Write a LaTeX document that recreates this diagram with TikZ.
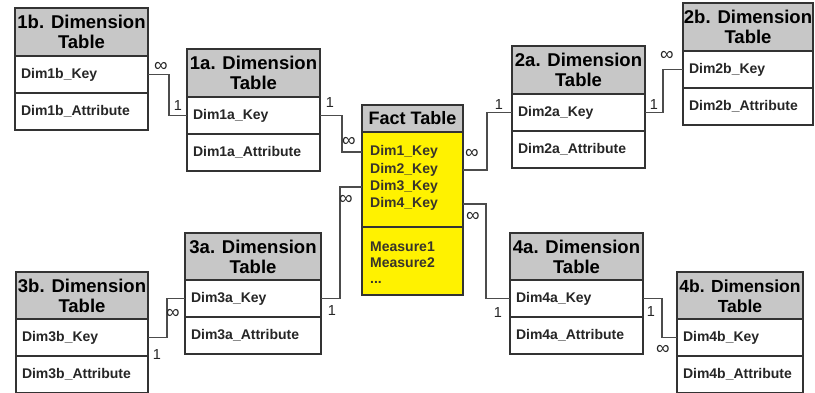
\documentclass[tikz,border=0pt]{standalone}
\usepackage{fontspec}
\setmainfont{Liberation Sans}
\begin{document}
\begin{tikzpicture}[x=1pt,y=-1pt,
  hdr/.style={rectangle, draw=black!80, fill=black!22, line width=1.5pt, outer sep=0pt, inner sep=0pt, anchor=north west, minimum width=133pt, minimum height=48pt, align=center, font=\fontsize{18.5}{20}\selectfont\bfseries},
  row/.style={rectangle, draw=black!80, fill=white, line width=1.5pt, outer sep=0pt, inner sep=0pt, anchor=north west, minimum width=133pt, minimum height=37pt, text width=121pt, font=\fontsize{14}{16}\selectfont\bfseries, text=black!85},
  facthdr/.style={rectangle, draw=black!80, fill=black!22, line width=1.5pt, outer sep=0pt, inner sep=0pt, anchor=north west, minimum width=101pt, minimum height=27pt, font=\fontsize{18}{20}\selectfont\bfseries},
  factbox/.style={rectangle, draw=black!80, fill=yellow, line width=1.5pt, outer sep=0pt, inner sep=0pt, anchor=north west, minimum width=101pt},
  fkey/.style={anchor=west, inner sep=0pt, font=\fontsize{14}{16}\selectfont\bfseries, text=black!80!olive},
  link/.style={draw=black!70, line width=1.3pt},
  lbl/.style={inner sep=0pt, font=\fontsize{14.5}{14}\selectfont, text=black!85},
  inf/.style={inner sep=0pt, font=\fontsize{19}{19}\selectfont, text=black!85}]
  \useasboundingbox (0,0) rectangle (815,393);

  % 1b
  \node[hdr] (h1b) at (15,8) {1b. Dimension\\Table};
  \node[row] (k1b) at (15,56) {Dim1b\_Key};
  \node[row] (a1b) at (15,93) {Dim1b\_Attribute};

  % 1a
  \node[hdr] (h1a) at (187,49) {1a. Dimension\\Table};
  \node[row] (k1a) at (187,97) {Dim1a\_Key};
  \node[row] (a1a) at (187,134) {Dim1a\_Attribute};

  % 2a
  \node[hdr] (h2a) at (512,46) {2a. Dimension\\Table};
  \node[row] (k2a) at (512,94) {Dim2a\_Key};
  \node[row] (a2a) at (512,131) {Dim2a\_Attribute};

  % 2b
  \node[hdr, minimum width=130pt] (h2b) at (683,3) {2b. Dimension\\Table};
  \node[row, minimum width=130pt, text width=118pt] (k2b) at (683,51) {Dim2b\_Key};
  \node[row, minimum width=130pt, text width=118pt] (a2b) at (683,88) {Dim2b\_Attribute};

  % 3a
  \node[hdr, minimum width=136pt] (h3a) at (185,233) {3a. Dimension\\Table};
  \node[row, minimum width=136pt, text width=124pt] (k3a) at (185,280) {Dim3a\_Key};
  \node[row, minimum width=136pt, text width=124pt] (a3a) at (185,317) {Dim3a\_Attribute};

  % 3b
  \node[hdr, minimum width=132pt] (h3b) at (16,272) {3b. Dimension\\Table};
  \node[row, minimum width=132pt, text width=120pt] (k3b) at (16,319) {Dim3b\_Key};
  \node[row, minimum width=132pt, text width=120pt] (a3b) at (16,356) {Dim3b\_Attribute};

  % 4a
  \node[hdr] (h4a) at (510,233) {4a. Dimension\\Table};
  \node[row] (k4a) at (510,280) {Dim4a\_Key};
  \node[row] (a4a) at (510,317) {Dim4a\_Attribute};

  % 4b
  \node[hdr, minimum width=126pt, font=\fontsize{17.5}{20}\selectfont\bfseries] (h4b) at (677,272) {4b. Dimension\\Table};
  \node[row, minimum width=126pt, text width=114pt] (k4b) at (677,319) {Dim4b\_Key};
  \node[row, minimum width=126pt, text width=114pt] (a4b) at (677,356) {Dim4b\_Attribute};

  % fact table
  \node[facthdr] (hf) at (362,105) {Fact Table};
  \node[factbox, minimum height=95pt] (kf) at (362,132) {};
  \node[factbox, minimum height=68pt] (mf) at (362,227) {};
  \node[fkey] (fk1) at (370,152) {Dim1\_Key};
  \node[fkey] (fk2) at (370,170) {Dim2\_Key};
  \node[fkey] (fk3) at (370,187) {Dim3\_Key};
  \node[fkey] (fk4) at (370,204) {Dim4\_Key};
  \node[fkey] (m1) at (370,247) {Measure1};
  \node[fkey] (m2) at (370,263) {Measure2};
  \node[fkey] (m3) at (370,282) {...};

  % links
  \draw[link] (k1b.east) -- ++(21,0) |- (k1a.west);
  \draw[link] (k1a.east) -- ++(22,0) |- (fk1 -| kf.west);
  \draw[link] (fk2 -| kf.east) -- ++(24,0) |- (k2a.west);
  \draw[link] (k2a.east) -- ++(18,0) |- (k2b.west);
  \draw[link] (k3b.east) -- ++(19,0) |- (k3a.west);
  \draw[link] (k3a.east) -- ++(19,0) |- (fk3 -| kf.west);
  \draw[link] (fk4 -| kf.east) -- ++(23,0) |- (k4a.west);
  \draw[link] (k4a.east) -- ++(19,0) |- (k4b.west);

  % cardinalities
  \node[inf] (c1) at (161,67) {∞};
  \node[lbl] (c2) at (178,106) {1};
  \node[lbl] (c3) at (330,103) {1};
  \node[inf] (c4) at (349,142) {∞};
  \node[inf] (c5) at (472,154) {∞};
  \node[lbl] (c6) at (499,105) {1};
  \node[lbl] (c7) at (654,105) {1};
  \node[inf] (c8) at (667,56) {∞};
  \node[inf] (c9) at (173,314) {∞};
  \node[lbl] (c10) at (157,355) {1};
  \node[lbl] (c11) at (332,311) {1};
  \node[inf] (c12) at (346,200) {∞};
  \node[inf] (c13) at (473,217) {∞};
  \node[lbl] (c14) at (498,313) {1};
  \node[lbl] (c15) at (651,312) {1};
  \node[inf] (c16) at (663,350) {∞};
\end{tikzpicture}
\end{document}
